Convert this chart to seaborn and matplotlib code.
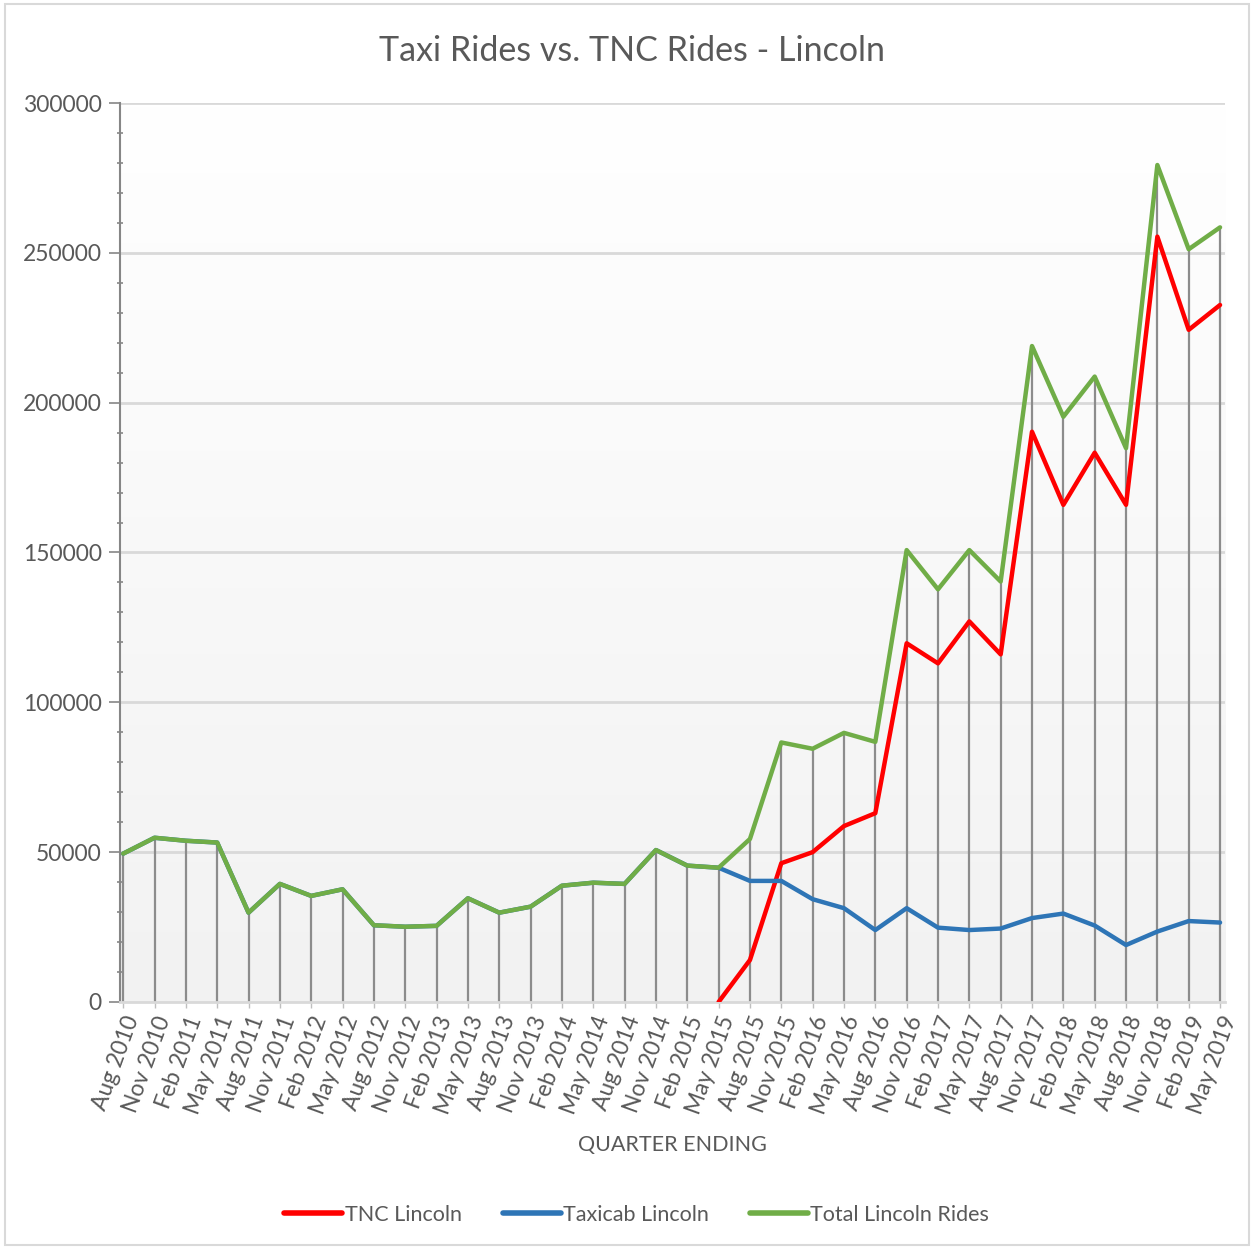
import numpy as np
import pandas as pd
import matplotlib.pyplot as plt
import seaborn as sns
from matplotlib.ticker import MultipleLocator
from matplotlib.lines import Line2D
from matplotlib.patches import Rectangle
from matplotlib.colors import LinearSegmentedColormap

quarters = ['Aug 2010', 'Nov 2010', 'Feb 2011', 'May 2011', 'Aug 2011', 'Nov 2011',
            'Feb 2012', 'May 2012', 'Aug 2012', 'Nov 2012', 'Feb 2013', 'May 2013',
            'Aug 2013', 'Nov 2013', 'Feb 2014', 'May 2014', 'Aug 2014', 'Nov 2014',
            'Feb 2015', 'May 2015', 'Aug 2015', 'Nov 2015', 'Feb 2016', 'May 2016',
            'Aug 2016', 'Nov 2016', 'Feb 2017', 'May 2017', 'Aug 2017', 'Nov 2017',
            'Feb 2018', 'May 2018', 'Aug 2018', 'Nov 2018', 'Feb 2019', 'May 2019']

tnc = [np.nan] * 19 + [0, 14000, 46300, 50000, 58700, 63000, 119700, 113000, 127000,
                       116000, 190300, 165900, 183300, 165900, 255400, 224300, 232600]
taxi = [49500, 54800, 53800, 53200, 29800, 39400, 35400, 37600, 25600, 25100, 25400,
        34600, 29800, 31800, 38800, 39800, 39400, 50700, 45500, 44800, 40400, 40400,
        34300, 31300, 24000, 31300, 24800, 24000, 24500, 28000, 29500, 25500, 19000,
        23500, 27000, 26500]
total = [49500, 54800, 53800, 53200, 29800, 39400, 35400, 37600, 25600, 25100, 25400,
         34600, 29800, 31800, 38800, 39800, 39400, 50700, 45500, 44800, 54400, 86600,
         84500, 89800, 86800, 150800, 137700, 150800, 140300, 218900, 195300, 208700,
         184800, 279300, 251200, 258500]

names = ['TNC Lincoln', 'Taxicab Lincoln', 'Total Lincoln Rides']
colors = ['#FF0000', '#2E75B6', '#70AD47']

idx = np.arange(len(quarters))
df = pd.DataFrame({'idx': idx, names[0]: tnc, names[1]: taxi, names[2]: total})
long = df.melt(id_vars='idx', var_name='series', value_name='rides').dropna()

sns.set_style('white')
plt.rcParams['font.family'] = ['Lato', 'DejaVu Sans']
txt = '#595959'

fig = plt.figure(figsize=(12.53, 12.47), dpi=100)
ax = fig.add_axes([0.0958, 0.1965, 0.8819, 0.7209])

xlim = (-0.1, 35.16)
grad = LinearSegmentedColormap.from_list('g', ['#FFFFFF', '#F2F2F2'])
ax.imshow(np.linspace(0, 1, 256).reshape(-1, 1), cmap=grad, aspect='auto',
          extent=[xlim[0], xlim[1], 0, 300000], zorder=0)

for y in range(50000, 300001, 50000):
    ax.axhline(y, color='#D9D9D9', lw=2, zorder=1)

ax.vlines(idx, 0, total, color='#8C8C8C', lw=1.6, zorder=2)

sns.lineplot(data=long, x='idx', y='rides', hue='series', hue_order=names,
             palette=colors, linewidth=3.2, sort=False, legend=False, ax=ax, zorder=3)

ax.set_xlim(*xlim)
ax.set_ylim(0, 300000)
ax.yaxis.set_major_locator(MultipleLocator(50000))
ax.yaxis.set_minor_locator(MultipleLocator(10000))
ax.set_xticks(idx)
ax.set_xticklabels(quarters, rotation=70, ha='right', va='top', rotation_mode='anchor',
                   fontsize=16.5, color=txt)
ax.tick_params(axis='y', which='major', length=8, width=1.2, color='#868686',
               labelsize=16.5, labelcolor=txt, left=True, pad=5)
ax.tick_params(axis='y', which='minor', length=5, width=1.2, color='#868686',
               direction='inout', left=True)
ax.tick_params(axis='x', length=4, width=1, color='#BFBFBF', bottom=True, pad=4)

for s in ['top', 'right']:
    ax.spines[s].set_visible(False)
ax.spines['left'].set_color('#868686')
ax.spines['left'].set_linewidth(1.5)
ax.spines['bottom'].set_color('#D9D9D9')
ax.spines['bottom'].set_linewidth(2)

ax.set_xlabel('')
ax.set_ylabel('')
fig.text(0.5365, 0.082, 'QUARTER ENDING', ha='center', va='center', fontsize=15.5, color=txt)
fig.text(0.504, 0.959, 'Taxi Rides vs. TNC Rides - Lincoln', ha='center', va='center',
         fontsize=24.5, color=txt)

handles = [Line2D([], [], color=c, lw=4, solid_capstyle='round') for c in colors]
fig.legend(handles, names, loc='center', bbox_to_anchor=(0.508, 0.0257), ncol=3,
           frameon=False, fontsize=15.5, handlelength=2.7, handletextpad=0.1,
           columnspacing=1.9, labelcolor=txt)

fig.patches.append(Rectangle((0.004, 0.002), 0.993, 0.995, transform=fig.transFigure,
                             fill=False, edgecolor='#D9D9D9', lw=1.5))

fig.savefig('out.png', dpi=100)
